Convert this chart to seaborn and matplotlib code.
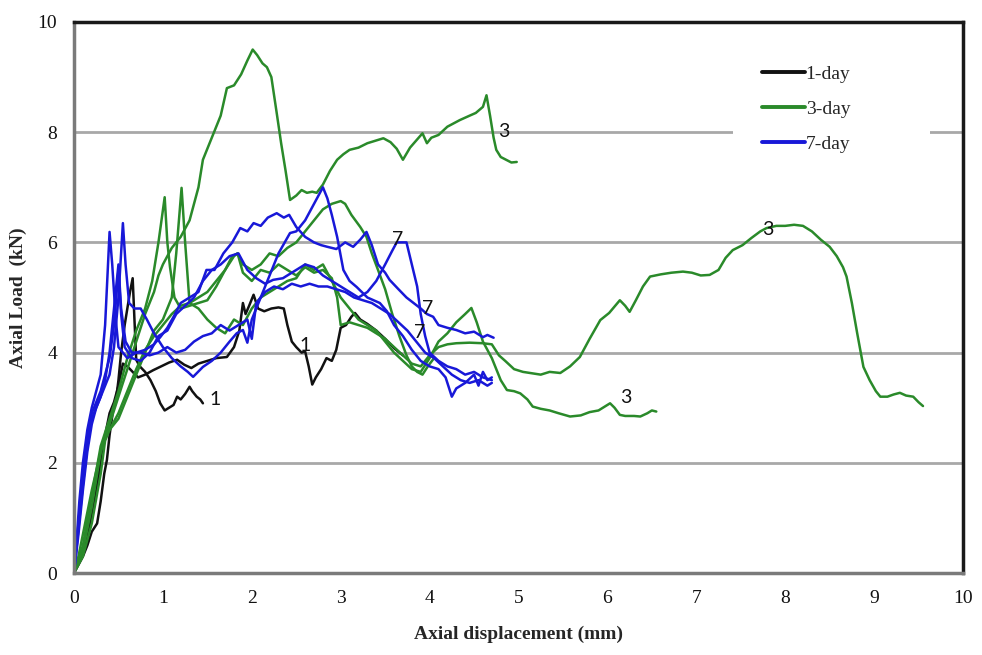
import matplotlib
matplotlib.use("Agg")
import matplotlib.pyplot as plt
import seaborn as sns
import pandas as pd
from matplotlib.ticker import MultipleLocator

# Load–displacement traces, one list of (displacement mm, load kN) per specimen
day1_a = [(0, 0), (0.05, 0.15), (0.1, 0.3), (0.15, 0.5), (0.2, 0.75), (0.26, 0.9), (0.3, 1.3), (0.34, 1.8),
          (0.37, 2.05), (0.4, 2.5), (0.44, 2.96), (0.47, 3.1), (0.5, 3.5), (0.53, 4.0), (0.57, 4.5), (0.6, 4.8),
          (0.63, 5.1), (0.66, 5.35), (0.68, 4.6), (0.7, 3.87), (0.74, 3.75), (0.8, 3.65), (0.86, 3.5), (0.92, 3.3),
          (0.97, 3.08), (1.02, 2.95), (1.07, 3.0), (1.12, 3.05), (1.16, 3.2), (1.2, 3.15), (1.25, 3.25), (1.3, 3.38),
          (1.33, 3.3), (1.38, 3.2), (1.42, 3.15), (1.45, 3.08)]

day1_b = [(0, 0), (0.06, 0.2), (0.12, 0.5), (0.18, 0.9), (0.24, 1.4), (0.3, 2.0), (0.35, 2.5), (0.4, 2.9),
          (0.45, 3.1), (0.5, 3.4), (0.55, 3.8), (0.6, 3.75), (0.66, 3.65), (0.72, 3.55), (0.8, 3.6), (0.89, 3.68),
          (0.98, 3.75), (1.07, 3.82), (1.16, 3.87), (1.24, 3.78), (1.32, 3.72), (1.4, 3.8), (1.5, 3.85), (1.6, 3.9),
          (1.72, 3.92), (1.8, 4.1), (1.86, 4.4), (1.9, 4.9), (1.93, 4.7), (1.97, 4.85), (2.02, 5.05), (2.07, 4.8),
          (2.14, 4.75), (2.22, 4.8), (2.3, 4.82), (2.36, 4.8), (2.4, 4.5), (2.45, 4.2), (2.5, 4.1), (2.56, 4.0),
          (2.6, 4.02), (2.64, 3.75), (2.68, 3.42), (2.72, 3.55), (2.78, 3.7), (2.84, 3.9), (2.9, 3.85), (2.95, 4.05),
          (3.0, 4.45), (3.06, 4.5), (3.12, 4.65), (3.16, 4.72), (3.22, 4.6), (3.3, 4.52), (3.4, 4.4), (3.5, 4.25),
          (3.6, 4.08), (3.7, 3.95)]

day3_a = [(0, 0), (0.05, 0.3), (0.1, 0.7), (0.15, 1.1), (0.2, 1.5), (0.3, 2.2), (0.4, 2.7), (0.5, 3.2), (0.6, 3.7),
          (0.7, 4.2), (0.8, 4.7), (0.9, 5.1), (0.95, 5.4), (1.0, 5.6), (1.05, 5.75), (1.1, 5.9), (1.2, 6.1), (1.3, 6.4),
          (1.4, 7.0), (1.45, 7.5), (1.55, 7.9), (1.65, 8.3), (1.72, 8.8), (1.8, 8.85), (1.88, 9.05), (1.95, 9.3),
          (2.01, 9.5), (2.06, 9.4), (2.12, 9.25), (2.17, 9.18), (2.22, 9.0), (2.28, 8.35), (2.33, 7.8), (2.38, 7.3),
          (2.43, 6.77), (2.5, 6.85), (2.56, 6.95), (2.62, 6.9), (2.68, 6.92), (2.73, 6.9), (2.8, 7.05), (2.88, 7.3),
          (2.96, 7.5), (3.03, 7.6), (3.1, 7.68), (3.2, 7.72), (3.3, 7.8), (3.4, 7.85), (3.48, 7.89), (3.56, 7.82),
          (3.63, 7.7), (3.7, 7.5), (3.78, 7.72), (3.85, 7.85), (3.92, 7.98), (3.97, 7.8), (4.02, 7.9), (4.1, 7.95),
          (4.2, 8.1), (4.34, 8.22), (4.45, 8.3), (4.52, 8.35), (4.6, 8.46), (4.64, 8.67), (4.68, 8.3), (4.72, 7.9),
          (4.75, 7.68), (4.8, 7.55), (4.86, 7.5), (4.92, 7.45), (4.98, 7.46)]

day3_b = [(0, 0), (0.1, 0.5), (0.2, 1.4), (0.3, 2.3), (0.4, 2.8), (0.5, 3.3), (0.6, 3.9), (0.7, 4.4), (0.8, 4.8),
          (0.88, 5.3), (0.95, 6.0), (1.02, 6.82), (1.05, 6.0), (1.08, 5.55), (1.13, 5.0), (1.2, 4.8), (1.3, 4.85),
          (1.4, 4.9), (1.5, 4.95), (1.6, 5.2), (1.7, 5.5), (1.8, 5.75), (1.84, 5.8), (1.9, 5.45), (2.0, 5.3),
          (2.1, 5.5), (2.2, 5.45), (2.3, 5.6), (2.4, 5.5), (2.5, 5.4), (2.6, 5.55), (2.7, 5.45), (2.8, 5.5),
          (2.9, 5.35), (2.96, 5.0), (3.0, 4.5), (3.1, 4.55), (3.2, 4.5), (3.3, 4.45), (3.4, 4.35), (3.5, 4.25),
          (3.6, 4.1), (3.7, 3.95), (3.8, 3.8), (3.9, 3.75), (4.0, 3.95), (4.1, 4.1), (4.2, 4.15), (4.3, 4.17),
          (4.45, 4.18), (4.6, 4.17), (4.7, 4.15), (4.78, 3.95), (4.85, 3.85), (4.95, 3.7), (5.05, 3.65), (5.13, 3.63),
          (5.25, 3.6), (5.35, 3.65), (5.47, 3.63), (5.58, 3.75), (5.69, 3.92), (5.8, 4.25), (5.92, 4.59), (6.02, 4.72),
          (6.14, 4.95), (6.2, 4.85), (6.25, 4.74), (6.32, 4.95), (6.4, 5.2), (6.48, 5.38), (6.6, 5.42), (6.72, 5.45),
          (6.85, 5.47), (6.95, 5.45), (7.05, 5.4), (7.15, 5.41), (7.25, 5.5), (7.33, 5.72), (7.41, 5.86), (7.52, 5.95),
          (7.62, 6.08), (7.72, 6.2), (7.79, 6.26), (7.9, 6.3), (8.0, 6.3), (8.1, 6.32), (8.2, 6.3), (8.3, 6.2),
          (8.4, 6.05), (8.5, 5.92), (8.58, 5.75), (8.65, 5.55), (8.69, 5.38), (8.75, 4.9), (8.81, 4.35), (8.85, 4.0),
          (8.88, 3.74), (8.95, 3.5), (9.02, 3.3), (9.07, 3.2), (9.15, 3.2), (9.22, 3.24), (9.29, 3.27), (9.36, 3.22),
          (9.44, 3.2), (9.5, 3.1), (9.55, 3.03)]

day3_c = [(0, 0), (0.1, 0.4), (0.2, 1.2), (0.3, 2.2), (0.35, 2.5), (0.4, 2.6), (0.5, 2.8), (0.6, 3.2), (0.7, 3.6),
          (0.8, 4.0), (0.9, 4.4), (1.0, 4.6), (1.1, 5.0), (1.15, 5.8), (1.21, 6.99), (1.25, 6.0), (1.3, 4.9),
          (1.4, 4.8), (1.5, 4.6), (1.6, 4.45), (1.7, 4.35), (1.8, 4.6), (1.9, 4.5), (2.0, 4.8), (2.1, 5.0), (2.2, 5.1),
          (2.3, 5.2), (2.4, 5.3), (2.5, 5.35), (2.6, 5.6), (2.7, 5.5), (2.8, 5.6), (2.9, 5.3), (3.0, 5.0), (3.1, 4.8),
          (3.2, 4.6), (3.3, 4.5), (3.4, 4.4), (3.5, 4.2), (3.6, 4.0), (3.7, 3.85), (3.8, 3.7), (3.9, 3.65),
          (4.0, 3.9), (4.1, 4.2), (4.2, 4.35), (4.3, 4.55), (4.4, 4.7), (4.47, 4.81), (4.53, 4.55), (4.6, 4.2),
          (4.7, 3.9), (4.8, 3.5), (4.87, 3.32), (4.95, 3.3), (5.02, 3.26), (5.1, 3.15), (5.16, 3.02), (5.25, 2.98),
          (5.35, 2.95), (5.45, 2.9), (5.58, 2.84), (5.7, 2.86), (5.8, 2.92), (5.9, 2.95), (6.03, 3.08), (6.08, 3.0),
          (6.14, 2.87), (6.2, 2.85), (6.3, 2.85), (6.37, 2.84), (6.45, 2.9), (6.5, 2.95), (6.55, 2.93)]

day3_d = [(0, 0), (0.1, 0.3), (0.2, 0.9), (0.3, 1.8), (0.35, 2.4), (0.4, 2.6), (0.5, 2.9), (0.6, 3.3), (0.7, 3.7),
          (0.8, 4.05), (0.9, 4.3), (1.0, 4.5), (1.1, 4.7), (1.2, 4.85), (1.3, 4.9), (1.4, 5.0), (1.5, 5.1), (1.6, 5.3),
          (1.7, 5.5), (1.78, 5.75), (1.84, 5.8), (1.9, 5.6), (2.0, 5.5), (2.1, 5.6), (2.2, 5.8), (2.3, 5.75),
          (2.4, 5.9), (2.5, 6.0), (2.6, 6.2), (2.7, 6.4), (2.8, 6.6), (2.9, 6.7), (3.0, 6.75), (3.05, 6.7),
          (3.12, 6.5), (3.22, 6.28), (3.29, 6.1), (3.35, 5.8), (3.42, 5.5), (3.5, 5.15), (3.58, 4.7), (3.66, 4.3),
          (3.74, 3.95), (3.8, 3.75), (3.86, 3.65), (3.92, 3.6), (3.98, 3.75), (4.05, 3.9)]

day7_a = [(0, 0), (0.03, 0.6), (0.06, 1.3), (0.1, 2.0), (0.15, 2.6), (0.2, 3.0), (0.25, 3.3), (0.3, 3.6), (0.35, 4.5),
          (0.4, 6.19), (0.43, 5.6), (0.47, 4.6), (0.5, 4.1), (0.55, 4.0), (0.6, 3.9), (0.7, 4.0), (0.8, 4.05),
          (0.9, 4.15), (0.97, 4.28), (1.05, 4.45), (1.12, 4.65), (1.2, 4.9), (1.3, 5.0), (1.4, 5.1), (1.49, 5.5),
          (1.58, 5.5), (1.68, 5.8), (1.78, 6.0), (1.87, 6.26), (1.95, 6.2), (2.02, 6.35), (2.1, 6.3), (2.18, 6.45),
          (2.28, 6.53), (2.36, 6.45), (2.42, 6.5), (2.5, 6.28), (2.6, 6.1), (2.7, 6.0), (2.78, 5.95), (2.85, 5.92),
          (2.95, 5.88), (3.05, 6.0), (3.14, 5.92), (3.22, 6.05), (3.29, 6.19), (3.35, 5.95), (3.42, 5.6), (3.5, 5.45),
          (3.55, 5.32), (3.65, 5.15), (3.74, 5.0), (3.82, 4.9), (3.9, 4.8), (3.97, 4.7), (4.04, 4.65), (4.1, 4.5),
          (4.2, 4.45), (4.3, 4.41), (4.4, 4.35), (4.5, 4.38), (4.6, 4.28), (4.65, 4.32), (4.72, 4.27)]

day7_b = [(0, 0), (0.05, 0.8), (0.1, 1.6), (0.15, 2.3), (0.2, 2.8), (0.3, 3.2), (0.35, 3.4), (0.4, 3.6), (0.45, 4.1),
          (0.5, 5.0), (0.55, 6.35), (0.58, 5.6), (0.62, 4.9), (0.68, 4.8), (0.75, 4.8), (0.82, 4.6), (0.9, 4.35),
          (1.0, 4.1), (1.1, 3.9), (1.2, 3.75), (1.28, 3.65), (1.34, 3.56), (1.45, 3.74), (1.55, 3.85), (1.65, 4.0),
          (1.75, 4.2), (1.83, 4.35), (1.9, 4.41), (1.95, 4.18), (2.0, 4.6), (2.1, 5.0), (2.2, 5.4), (2.3, 5.8),
          (2.43, 6.17), (2.5, 6.2), (2.6, 6.4), (2.7, 6.7), (2.8, 7.0), (2.85, 6.8), (2.9, 6.5), (2.96, 6.1),
          (3.03, 5.5), (3.1, 5.3), (3.18, 5.19), (3.3, 5.0), (3.44, 4.9), (3.52, 4.75), (3.6, 4.5), (3.7, 4.3),
          (3.8, 4.05), (3.9, 3.85), (4.0, 3.75), (4.1, 3.7), (4.18, 3.55), (4.25, 3.2), (4.3, 3.35), (4.4, 3.45),
          (4.5, 3.6), (4.55, 3.4), (4.6, 3.65), (4.65, 3.5), (4.7, 3.55)]

day7_c = [(0, 0), (0.05, 0.9), (0.1, 1.8), (0.15, 2.5), (0.2, 2.9), (0.25, 3.1), (0.3, 3.3), (0.4, 3.9), (0.45, 4.5),
          (0.5, 5.5), (0.53, 4.7), (0.57, 4.1), (0.65, 3.9), (0.75, 3.85), (0.85, 4.0), (0.95, 4.3), (1.05, 4.4),
          (1.15, 4.7), (1.25, 4.85), (1.35, 5.0), (1.45, 5.3), (1.55, 5.5), (1.65, 5.6), (1.75, 5.75), (1.85, 5.8),
          (1.95, 5.5), (2.05, 5.35), (2.15, 5.25), (2.24, 5.32), (2.35, 5.35), (2.5, 5.5), (2.6, 5.6), (2.7, 5.55),
          (2.8, 5.4), (2.9, 5.3), (3.0, 5.2), (3.1, 5.1), (3.2, 5.0), (3.3, 5.1), (3.4, 5.3), (3.5, 5.6),
          (3.58, 5.85), (3.63, 6.0), (3.74, 6.0), (3.8, 5.6), (3.86, 5.2), (3.9, 4.7), (3.95, 4.3), (4.0, 4.0),
          (4.1, 3.85), (4.2, 3.75), (4.3, 3.7), (4.4, 3.6), (4.5, 3.65), (4.6, 3.55), (4.7, 3.5)]

day7_d = [(0, 0), (0.05, 0.7), (0.1, 1.5), (0.15, 2.2), (0.2, 2.7), (0.25, 3.0), (0.3, 3.2), (0.35, 3.5), (0.4, 4.0),
          (0.45, 4.8), (0.5, 5.6), (0.53, 4.8), (0.58, 4.2), (0.65, 4.0), (0.75, 4.0), (0.85, 3.95), (0.95, 4.0),
          (1.05, 4.1), (1.15, 4.0), (1.25, 4.05), (1.35, 4.2), (1.45, 4.3), (1.55, 4.35), (1.65, 4.5), (1.75, 4.4),
          (1.85, 4.5), (1.95, 4.6), (2.0, 4.25), (2.05, 4.9), (2.15, 5.1), (2.25, 5.2), (2.35, 5.15), (2.45, 5.25),
          (2.55, 5.2), (2.65, 5.25), (2.75, 5.2), (2.85, 5.2), (2.95, 5.15), (3.05, 5.1), (3.15, 5.0), (3.25, 4.95),
          (3.35, 4.9), (3.45, 4.8), (3.55, 4.7), (3.65, 4.55), (3.75, 4.4), (3.85, 4.2), (3.95, 4.0), (4.05, 3.9),
          (4.15, 3.75), (4.25, 3.6), (4.35, 3.5), (4.45, 3.45), (4.55, 3.5), (4.65, 3.4), (4.7, 3.45)]

ages = ["1-day", "3-day", "7-day"]
age_colors = ["#111111", "#2a8a2a", "#1818d8"]

# Curing-age tags written next to the traces
tag_text = ["1", "1", "3", "3", "3", "7", "7", "7"]
tag_x = [1.59, 2.6, 4.84, 7.8, 6.21, 3.64, 3.98, 3.89]
tag_y = [3.14, 4.12, 8.02, 6.24, 3.18, 6.06, 4.8, 4.36]

specimens = [
    ("1-day", "1a", day1_a), ("1-day", "1b", day1_b),
    ("3-day", "3a", day3_a), ("3-day", "3b", day3_b), ("3-day", "3c", day3_c), ("3-day", "3d", day3_d),
    ("7-day", "7a", day7_a), ("7-day", "7b", day7_b), ("7-day", "7c", day7_c), ("7-day", "7d", day7_d),
]
rows = []
for age, name, pts in specimens:
    for i, (d, p) in enumerate(pts):
        rows.append((d, p, age, name, i))
df = pd.DataFrame(rows, columns=["disp", "load", "age", "specimen", "step"])

sns.set_style("white")
plt.rcParams["font.family"] = ["Liberation Serif", "DejaVu Serif"]

fig = plt.figure(figsize=(9.82, 6.55), dpi=100)
ax = fig.add_axes([74 / 982, 1 - 573 / 655, 889 / 982, 551 / 655])

sns.lineplot(data=df, x="disp", y="load", hue="age", hue_order=ages,
             palette=dict(zip(ages, age_colors)), units="specimen", estimator=None,
             sort=False, linewidth=1.8, ax=ax)

ax.set_xlim(0, 10)
ax.set_ylim(0, 10)
ax.xaxis.set_major_locator(MultipleLocator(1))
ax.xaxis.set_minor_locator(MultipleLocator(0.5))
ax.yaxis.set_major_locator(MultipleLocator(2))
ax.yaxis.set_minor_locator(MultipleLocator(0.4))

ax.set_axisbelow(True)
ax.yaxis.grid(True, which="major", color="#a8a8a8", linewidth=2)
ax.xaxis.grid(False)

for side in ["left", "bottom"]:
    ax.spines[side].set_color("#7a7a7a")
    ax.spines[side].set_linewidth(2.5)
for side in ["top", "right"]:
    ax.spines[side].set_color("#1a1a1a")
    ax.spines[side].set_linewidth(2.5)

ax.tick_params(axis="both", which="both", direction="out", color="#8a8a8a", width=1.5,
               labelsize=14, labelcolor="#111111")
ax.tick_params(axis="both", which="major", length=6, pad=6)
ax.tick_params(axis="both", which="minor", length=5)

ax.set_xlabel("Axial displacement (mm)", fontsize=14, fontweight="bold", labelpad=14)
ax.set_ylabel("Axial Load  (kN)", fontsize=14, fontweight="bold", labelpad=8)

for t, x, y in zip(tag_text, tag_x, tag_y):
    ax.text(x, y, t, fontsize=14, family=["Lato", "DejaVu Sans"], color="#111111",
            ha="center", va="center")

handles, labels = ax.get_legend_handles_labels()
leg = ax.legend(handles, labels, loc="upper left", bbox_to_anchor=(0.741, 0.975, 0.222, 0.0),
                mode="expand", frameon=True, facecolor="white", edgecolor="none", framealpha=1,
                fontsize=14, handlelength=2.2, handletextpad=0.05, labelspacing=0.9,
                borderpad=1.5, borderaxespad=0.0)
for line in leg.get_lines():
    line.set_linewidth(2.8)

fig.savefig("out.png", dpi=100)
